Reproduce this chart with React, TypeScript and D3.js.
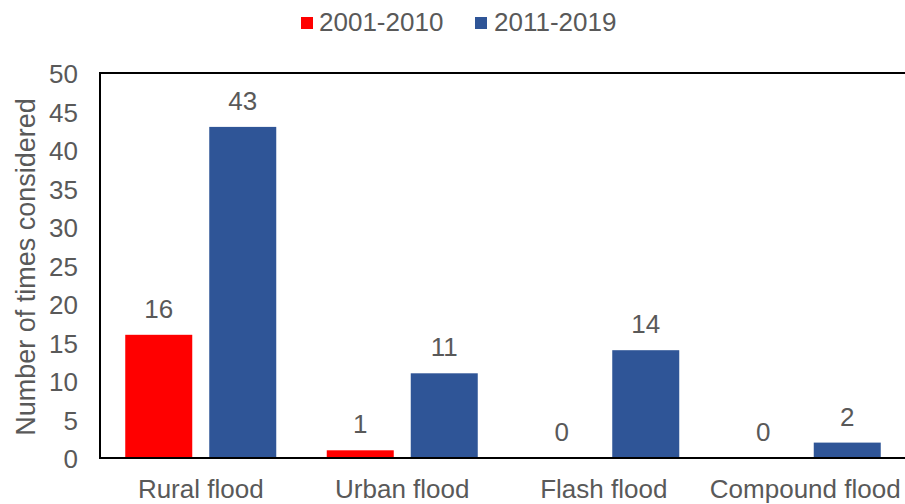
import React from "react";
import * as d3 from "d3";

const categories = ["Rural flood", "Urban flood", "Flash flood", "Compound flood"];
const seriesNames = ["2001-2010", "2011-2019"];
const values2001 = [16, 1, 0, 0];
const values2011 = [43, 11, 14, 2];
const yTicks = [0, 5, 10, 15, 20, 25, 30, 35, 40, 45, 50];
const colors = ["#FF0000", "#2F5597"];

const W = 905;
const H = 504;
const left = 100;
const right = 906;
const top = 73;
const bottom = 458;
const font = "'Liberation Sans', Arial, sans-serif";
const textColor = "#595959";
const fs = 26;

export default function App() {
  const x = d3.scaleBand<string>().domain(categories).range([left, right]).paddingInner(0).paddingOuter(0);
  const y = d3.scaleLinear().domain([0, 50]).range([bottom, top]);
  const bw = x.bandwidth();
  const barW = 67;
  const gap = 17;
  const groupW = barW * 2 + gap;
  const series = [values2001, values2011];

  return (
    <svg width={W} height={H} style={{ position: "absolute", left: 0, top: 0 }} fontFamily={font}>
      <rect x={0} y={0} width={W} height={H} fill="#fff" />
      {/* legend */}
      <g>
        <rect x={301} y={17} width={12} height={12} fill={colors[0]} />
        <text x={319} y={31} fontSize={fs} fill={textColor}>{seriesNames[0]}</text>
        <rect x={475} y={17} width={12} height={12} fill={colors[1]} />
        <text x={494} y={31} fontSize={fs} fill={textColor}>{seriesNames[1]}</text>
      </g>
      {/* bars */}
      {categories.map((c, i) => {
        const gx = (x(c) as number) + (bw - groupW) / 2;
        return (
          <g key={c}>
            {series.map((vals, s) => {
              const bx = gx + s * (barW + gap);
              const v = vals[i];
              return (
                <g key={s}>
                  {v > 0 && (
                    <rect x={bx} y={y(v)} width={barW} height={bottom - y(v)} fill={colors[s]} />
                  )}
                  <text
                    x={bx + barW / 2}
                    y={y(v) - 17}
                    fontSize={fs}
                    textAnchor="middle"
                    fill={textColor}
                  >
                    {v}
                  </text>
                </g>
              );
            })}
            <text x={(x(c) as number) + bw / 2} y={498} fontSize={fs} textAnchor="middle" fill={textColor}>
              {c}
            </text>
          </g>
        );
      })}
      {/* frame */}
      <path d={`M${right},${top}H${left}V${bottom}H${right}`} fill="none" stroke="#000" strokeWidth={2} />
      {/* y ticks */}
      {yTicks.map((t) => (
        <text key={t} x={78} y={y(t) + 10} fontSize={fs} textAnchor="end" fill={textColor}>
          {t}
        </text>
      ))}
      <text
        transform={`translate(35,267) rotate(-90)`}
        fontSize={27}
        textAnchor="middle"
        fill={textColor}
      >
        Number  of times considered
      </text>
    </svg>
  );
}
